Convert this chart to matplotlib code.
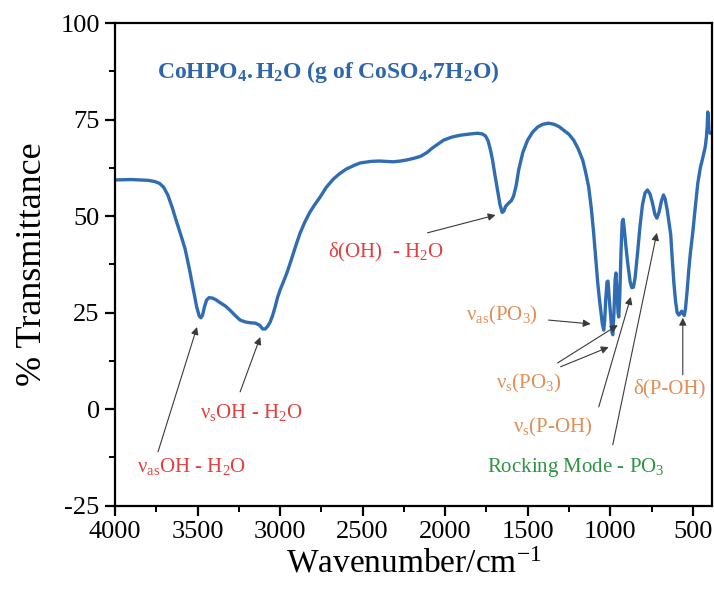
import matplotlib
matplotlib.use("Agg")
import matplotlib.pyplot as plt
from matplotlib.ticker import MultipleLocator

plt.rcParams["font.family"] = ["Liberation Serif", "DejaVu Serif"]
plt.rcParams["mathtext.fontset"] = "custom"
plt.rcParams["mathtext.rm"] = "Liberation Serif"
plt.rcParams["mathtext.it"] = "Liberation Serif:italic"
plt.rcParams["mathtext.bf"] = "Liberation Serif:bold"
plt.rcParams["axes.unicode_minus"] = False

# FTIR spectrum of CoHPO4.H2O: wavenumber (cm^-1) and % transmittance
wavenumber = [4000, 3900, 3800, 3760, 3730, 3705, 3680, 3655, 3630, 3600,
              3575, 3550, 3525, 3505, 3490, 3480, 3470, 3458, 3445, 3430,
              3410, 3390, 3363, 3330, 3302, 3270, 3242, 3210, 3181, 3150,
              3125, 3105, 3090, 3075, 3060, 3045, 3030, 3015, 2999, 2980,
              2957, 2930, 2900, 2878, 2850, 2820, 2790, 2757, 2720, 2678,
              2640, 2600, 2550, 2514, 2450, 2400, 2350, 2314, 2270, 2230,
              2190, 2150, 2110, 2080, 2040, 2010, 1960, 1907, 1850, 1804,
              1775, 1756, 1740, 1725, 1713, 1700, 1683, 1668, 1655, 1645,
              1635, 1616, 1600, 1586, 1570, 1555, 1530, 1501, 1470, 1440,
              1410, 1374, 1340, 1310, 1283, 1250, 1222, 1195, 1167, 1150,
              1131, 1115, 1101, 1088, 1076, 1066, 1058, 1048, 1040, 1034,
              1028, 1020, 1014, 1007, 997, 990, 985, 978, 971, 966,
              960, 953, 949, 943, 935, 928, 922, 915, 905, 895,
              880, 870, 860, 850, 835, 820, 805, 790, 775, 760,
              745, 730, 718, 705, 690, 678, 668, 655, 645, 634,
              625, 615, 605, 595, 585, 575, 568, 561, 552, 545,
              535, 525, 515, 500, 485, 470, 455, 439, 425, 418,
              413, 410, 407, 403, 395]
transmittance = [59.4, 59.5, 59.3, 59.0, 58.5, 57.5, 55.5, 52.5, 49.0, 45.0,
                 41.5, 36.5, 31.0, 26.5, 24.2, 23.7, 24.3, 26.5, 28.3, 28.9,
                 28.8, 28.4, 27.6, 26.7, 25.6, 24.2, 23.1, 22.6, 22.4, 22.3,
                 21.8, 20.8, 20.8, 21.5, 22.6, 24.3, 26.5, 29.0, 31.0, 33.0,
                 35.5, 39.0, 43.0, 45.7, 48.5, 51.0, 53.0, 55.0, 57.5, 59.6,
                 61.0, 62.2, 63.2, 63.8, 64.2, 64.3, 64.2, 64.1, 64.3, 64.6,
                 65.0, 65.5, 66.5, 67.6, 68.8, 69.7, 70.5, 71.0, 71.3, 71.5,
                 71.3, 70.8, 69.5, 67.0, 64.5, 61.0, 56.8, 53.0, 51.0, 51.3,
                 52.5, 53.4, 54.0, 55.2, 58.0, 62.0, 66.5, 69.7, 71.8, 73.1,
                 73.8, 74.1, 73.8, 73.2, 72.3, 71.2, 69.7, 67.5, 64.5, 61.5,
                 57.6, 52.0, 45.7, 39.0, 32.7, 28.5, 25.5, 22.0, 20.5, 23.0,
                 28.3, 33.0, 33.2, 29.0, 23.5, 20.0, 19.3, 25.0, 33.5, 35.3,
                 31.0, 25.0, 23.9, 29.0, 41.0, 48.5, 49.2, 46.5, 42.0, 38.0,
                 33.0, 31.5, 31.6, 34.0, 40.5, 47.5, 53.0, 56.0, 56.8, 55.8,
                 53.5, 50.5, 49.5, 51.0, 54.0, 55.5, 54.5, 51.5, 48.5, 45.2,
                 39.0, 32.7, 28.0, 25.0, 24.4, 24.9, 25.4, 24.9, 24.3, 26.0,
                 30.5, 36.0, 40.5, 46.0, 52.5, 58.6, 62.5, 65.3, 68.0, 70.5,
                 73.5, 77.0, 76.0, 72.0, 71.5]

x_ticks = [4000, 3500, 3000, 2500, 2000, 1500, 1000, 500]
y_ticks = [-25, 0, 25, 50, 75, 100]

# band assignments: (label, text anchor, colour, [(arrow tail, arrow head), ...])
RED = "#e2403f"
ORANGE = "#df8f57"
GREEN = "#2f9444"
bands = [
    (r"$\mathregular{ν_{as}}$OH - H$\mathregular{_2}$O", (3867, -16.2), RED,
     [((3739, -11.0), (3503, 21.3))]),
    (r"$\mathregular{ν_{s}}$OH - H$\mathregular{_2}$O", (3484, -2.2), RED,
     [((3242, 4.5), (3120, 18.7))]),
    (r"δ(OH)  - H$\mathregular{_2}$O", (2708, 39.4), RED,
     [((2107, 45.7), (1695, 50.3))]),
    (r"$\mathregular{ν_{as}}$(PO$\mathregular{_3}$)", (1877, 23.1), ORANGE,
     [((1374, 23.1), (1119, 22.1))]),
    (r"$\mathregular{ν_{s}}$(PO$\mathregular{_3}$)", (1695, 5.5), ORANGE,
     [((1319, 12.0), (955, 21.8)), ((1301, 11.0), (1010, 16.1))]),
    (r"$\mathregular{ν_{s}}$(P-OH)", (1592, -6.1), ORANGE,
     [((1070, 0.6), (876, 29.1))]),
    (r"Rocking Mode - PO$\mathregular{_3}$", (1744, -16.2), GREEN,
     [((985, -9.2), (718, 45.7))]),
    (r"δ(P-OH)", (864, 4.2), ORANGE,
     [((561, 8.9), (561, 23.7))]),
]

fig = plt.figure(figsize=(7.14, 5.95), dpi=100)
ax = fig.add_axes([0.161, 0.150, 0.836, 0.811])

ax.plot(wavenumber, transmittance, color="#2f6cb2", lw=2.4,
        solid_joinstyle="round", solid_capstyle="round")

ax.set_xlim(4000, 385)
ax.set_ylim(-25, 100)
ax.set_xticks(x_ticks)
ax.set_yticks(y_ticks)
ax.xaxis.set_minor_locator(MultipleLocator(250))
ax.yaxis.set_minor_locator(MultipleLocator(12.5))
ax.tick_params(which="major", direction="out", length=7, width=1.6,
               labelsize=19, pad=4)
ax.tick_params(which="minor", direction="out", length=4, width=1.4)
ax.tick_params(axis="x", top=False)
ax.tick_params(axis="y", right=False)
for sp in ax.spines.values():
    sp.set_linewidth(1.6)

ax.set_xlabel(r"Wavenumber/cm$\mathregular{^{-1}}$", fontsize=24, labelpad=4)
ax.set_ylabel("% Transmittance", fontsize=26, labelpad=8)

ax.text(3745, 85.8,
        r"$\mathbf{CoHPO_4.H_2O\ (g\ of\ CoSO_4.7H_2O)}$",
        color="#2d66aa", fontsize=17, va="baseline", ha="left")

for label, pos, col, arrows in bands:
    ax.text(pos[0], pos[1], label, color=col, fontsize=15,
            va="baseline", ha="left")
    for tail, head in arrows:
        ax.annotate("", xy=head, xytext=tail,
                    arrowprops=dict(arrowstyle="-|>", color="#3a3a3a",
                                    lw=0.8, mutation_scale=11,
                                    shrinkA=0, shrinkB=0))

fig.savefig("out.png", dpi=100)
